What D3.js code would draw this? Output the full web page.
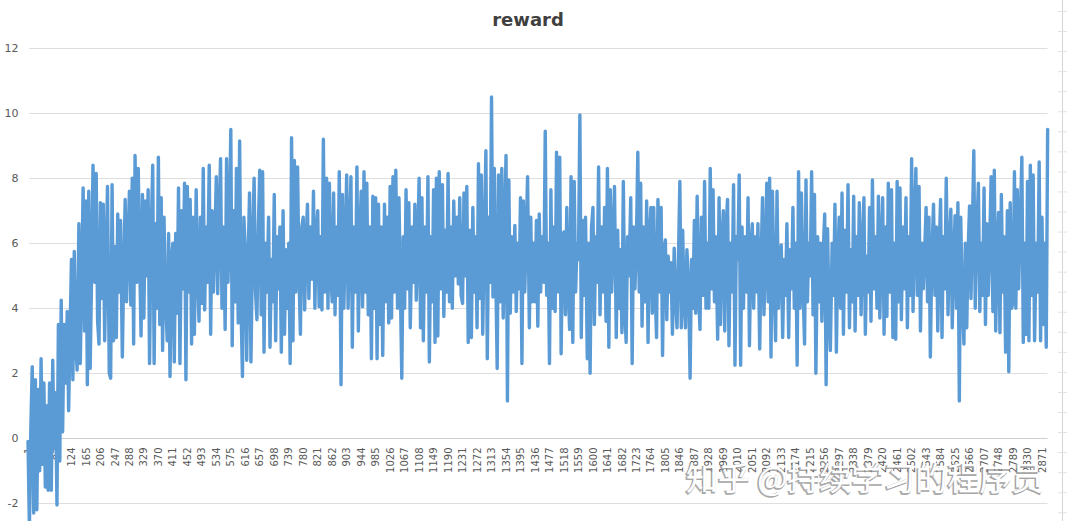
<!DOCTYPE html>
<html>
<head>
<meta charset="utf-8">
<title>reward</title>
<script src="https://d3js.org/d3.v7.min.js"></script>
<style>
  body { margin: 0; background: #fff; }
  svg text { font-family: "DejaVu Sans", sans-serif; }
</style>
</head>
<body>
<svg width="1067" height="521"></svg>
<script>
var yTicks = [-2, 0, 2, 4, 6, 8, 10, 12];
var xTickLabels = [1, 42, 83, 124, 165, 206, 247, 288, 329, 370, 411, 452, 493, 534, 575, 616, 657, 698,
    739, 780, 821, 862, 903, 944, 985, 1026, 1067, 1108, 1149, 1190, 1231, 1272, 1313, 1354, 1395, 1436,
    1477, 1518, 1559, 1600, 1641, 1682, 1723, 1764, 1805, 1846, 1887, 1928, 1969, 2010, 2051, 2092, 2133,
    2174, 2215, 2256, 2297, 2338, 2379, 2420, 2461, 2502, 2543, 2584, 2625, 2666, 2707, 2748, 2789, 2830, 2871];
var lastEpisode = 2888;
var sampleStep = 4.1;

// episodes 1 - 410
var reward1 = [
    -0.1, -2.7, 0.3, 2.2, -2.3, 1.8, -2.2, 1.5, -1.0, 2.45,
    -0.8, 1.7, -1.5, 1.0, -1.6, 1.7, -1.6, 2.4, -0.3, 1.4,
    -2.05, 3.5, -0.7, 4.25, 0.2, 3.5, 1.7, 3.9, 0.85, 3.2,
    5.5, 1.8, 5.75, 3.0, 2.1, 6.6, 2.3, 5.0, 7.7, 3.3,
    7.3, 1.65, 7.6, 2.15, 5.0, 8.4, 4.8, 8.15, 3.6, 2.9,
    7.25, 4.3, 7.2, 3.0, 5.5, 7.75, 2.0, 1.85, 7.8, 3.0,
    5.9, 3.1, 6.9, 4.5, 6.7, 2.5, 5.2, 7.35, 4.2, 6.0,
    7.6, 4.1, 8.0, 2.9, 8.7, 4.8, 8.3, 5.5, 3.15, 7.5,
    3.7, 7.3, 5.0, 7.65, 2.3, 6.0, 8.4, 2.3, 6.6, 4.0,
    8.65, 3.5, 7.4, 2.7, 6.8, 4.4, 3.0, 6.3, 1.9, 5.5
];
// episodes 411 - 820
var reward2 = [
    6.0, 2.35, 6.3, 3.85, 7.7, 2.3, 7.0, 4.6, 7.85, 1.8,
    7.75, 4.5, 7.35, 2.9, 6.8, 3.2, 7.65, 5.0, 3.6, 6.8,
    4.15, 8.3, 3.95, 6.5, 4.8, 8.4, 3.2, 7.0, 4.5, 6.2,
    8.05, 4.45, 6.8, 8.6, 4.0, 6.5, 3.35, 8.6, 4.8, 6.5,
    9.5, 2.85, 7.0, 4.2, 8.3, 3.55, 9.15, 4.0, 1.9, 6.8,
    5.8, 2.4, 5.5, 7.55, 2.35, 6.2, 8.0, 4.5, 3.65, 6.5,
    8.25, 3.8, 8.2, 2.65, 6.0, 4.5, 6.8, 2.8, 5.5, 4.2,
    7.5, 3.0, 6.2, 4.6, 6.5, 2.65, 7.0, 3.2, 5.8, 4.0,
    6.0, 2.3, 9.25, 3.0, 8.55, 4.5, 8.35, 5.0, 3.2, 6.5,
    6.8, 3.95, 6.0, 7.2, 4.3, 6.5, 4.9, 7.6, 4.0, 6.3
];
// episodes 821 - 1230
var reward3 = [
    7.0, 4.05, 6.2, 3.95, 9.2, 4.5, 8.0, 4.0, 7.85, 5.0,
    4.2, 7.55, 3.8, 6.5, 4.4, 8.2, 1.65, 7.5, 4.0, 6.0,
    8.1, 4.0, 6.2, 8.05, 2.8, 6.5, 4.5, 8.35, 3.3, 6.0,
    7.6, 4.05, 8.2, 4.5, 7.85, 3.8, 6.5, 2.45, 7.45, 4.0,
    7.4, 2.45, 7.2, 3.5, 6.5, 2.55, 7.2, 4.2, 6.8, 3.55,
    7.75, 3.7, 8.05, 4.5, 8.25, 4.0, 7.4, 4.6, 1.85, 6.2,
    4.0, 7.65, 4.6, 7.25, 3.4, 6.5, 4.8, 7.2, 4.25, 6.0,
    8.0, 3.4, 7.4, 3.0, 6.5, 4.5, 8.05, 2.35, 6.2, 4.2,
    7.65, 2.95, 8.0, 3.15, 8.2, 4.6, 7.8, 3.75, 6.4, 4.5,
    8.15, 4.2, 6.5, 4.0, 7.3, 5.0, 6.8, 4.75, 7.4, 4.4
];
// episodes 1231 - 1640
var reward4 = [
    4.15, 7.55, 5.0, 7.75, 2.95, 6.4, 3.1, 7.1, 4.5, 6.2,
    3.4, 8.45, 4.3, 8.1, 3.2, 6.5, 8.85, 2.45, 6.8, 4.8,
    10.5, 4.35, 8.3, 5.0, 2.15, 8.1, 4.2, 8.3, 3.7, 6.5,
    8.7, 1.15, 7.95, 3.85, 6.2, 4.5, 6.55, 3.9, 6.0, 4.6,
    7.4, 2.3, 7.3, 4.5, 6.2, 8.05, 3.4, 6.8, 4.2, 6.0,
    4.2, 6.7, 3.45, 6.9, 4.5, 6.2, 4.8, 9.45, 4.4, 6.0,
    2.3, 7.65, 4.0, 6.5, 3.9, 8.8, 4.5, 8.65, 2.6, 6.2,
    6.35, 3.8, 7.1, 4.6, 3.35, 8.05, 2.95, 7.9, 4.5, 6.0,
    5.5, 9.95, 3.1, 6.7, 4.4, 6.8, 2.45, 6.0, 2.0, 6.5,
    7.1, 3.5, 6.2, 4.8, 8.35, 3.8, 6.5, 4.5, 7.1, 3.6
];
// episodes 1641 - 2050
var reward5 = [
    8.3, 2.8, 7.65, 4.5, 6.0, 7.75, 3.1, 6.4, 4.0, 5.8,
    3.25, 7.9, 4.0, 2.95, 6.2, 5.0, 7.4, 2.3, 6.5, 4.6,
    6.0, 8.8, 4.5, 7.85, 3.45, 6.5, 4.2, 7.3, 2.95, 6.2,
    7.1, 3.85, 7.1, 4.6, 3.1, 7.35, 4.5, 7.1, 2.55, 5.8,
    6.1, 3.65, 5.6, 4.5, 5.4, 3.2, 5.85, 4.2, 3.4, 5.5,
    7.9, 3.4, 6.4, 4.2, 3.4, 5.8, 4.6, 1.85, 5.5, 4.0,
    6.7, 3.85, 7.45, 4.5, 3.35, 6.8, 4.4, 7.9, 4.0, 6.0,
    4.0, 8.3, 4.6, 7.65, 4.2, 6.2, 3.05, 7.4, 3.5, 6.0,
    7.0, 3.3, 6.5, 7.35, 2.85, 6.0, 4.5, 7.8, 2.25, 6.2,
    5.5, 8.1, 2.25, 6.5, 4.0, 6.2, 4.5, 7.4, 2.85, 5.8
];
// episodes 2051 - 2460
var reward6 = [
    6.6, 4.0, 6.2, 4.5, 6.6, 2.75, 5.5, 7.4, 3.8, 5.5,
    7.85, 4.2, 8.0, 2.5, 7.6, 4.5, 3.0, 7.6, 4.0, 5.5,
    5.95, 3.1, 5.5, 4.4, 6.6, 3.1, 5.8, 4.6, 7.1, 4.0,
    6.0, 2.25, 8.2, 4.0, 7.55, 4.5, 2.9, 7.95, 4.2, 6.0,
    5.0, 8.2, 3.8, 7.5, 2.0, 6.2, 4.2, 6.0, 3.6, 5.8,
    6.9, 1.65, 6.45, 4.0, 2.7, 6.0, 4.4, 7.2, 2.65, 5.5,
    6.8, 4.0, 7.55, 3.2, 6.4, 4.5, 7.8, 3.4, 5.8, 4.2,
    7.45, 3.3, 6.2, 4.4, 7.25, 3.8, 6.0, 7.4, 3.2, 5.6,
    4.5, 7.1, 3.6, 7.95, 4.6, 6.2, 4.0, 7.45, 3.7, 5.8,
    7.4, 3.2, 6.5, 3.75, 7.85, 4.5, 7.65, 3.1, 6.0, 3.05
];
// episodes 2461 - 2888
var reward7 = [
    7.9, 4.2, 7.7, 3.65, 6.5, 4.6, 7.4, 3.4, 6.2, 4.4,
    8.6, 3.9, 6.5, 8.3, 4.4, 7.75, 3.3, 6.0, 4.6, 5.8,
    7.1, 4.2, 6.8, 2.5, 5.5, 7.2, 4.4, 6.5, 3.3, 5.8,
    7.35, 3.1, 6.2, 4.6, 8.0, 3.8, 6.0, 7.05, 3.4, 5.5,
    6.85, 4.0, 7.25, 1.15, 6.8, 4.4, 2.9, 6.0, 3.4, 5.8,
    7.15, 4.3, 6.5, 8.85, 4.0, 6.2, 7.85, 3.9, 6.0, 4.4,
    7.7, 3.5, 6.6, 4.4, 6.0, 8.05, 3.9, 8.25, 3.3, 5.8,
    6.95, 3.25, 7.5, 4.5, 6.2, 2.65, 7.0, 2.05, 7.25, 4.0,
    4.2, 8.2, 4.0, 7.65, 4.6, 6.5, 8.65, 2.95, 6.0, 3.2,
    7.9, 3.0, 8.4, 4.4, 8.1, 3.0, 6.0, 4.5, 8.5, 3.0,
    6.8, 3.5, 6.0, 2.8, 9.5
];

var rewards = reward1.concat(reward2, reward3, reward4, reward5, reward6, reward7);
var points = rewards.map(function (v, i) {
    return { episode: Math.min(lastEpisode, Math.round(1 + i * sampleStep)), reward: v };
});

var svg = d3.select("svg");

var x = d3.scaleLinear().domain([1, lastEpisode]).range([28, 1048]);
var y = d3.scaleLinear().domain([-2, 12]).range([503.3, 48.3]);

// spreadsheet cell lines peeking in at the right
svg.append("line")
    .attr("x1", 1062.5).attr("x2", 1062.5).attr("y1", 0).attr("y2", 521)
    .attr("stroke", "#d4d4d4");
svg.append("g").selectAll("line")
    .data(d3.range(11.5, 521, 20.05))
    .enter().append("line")
    .attr("x1", 1058).attr("x2", 1067)
    .attr("y1", function (d) { return d; }).attr("y2", function (d) { return d; })
    .attr("stroke", "#e2e2e2");

// gridlines
svg.append("g").selectAll("line")
    .data(yTicks)
    .enter().append("line")
    .attr("x1", 29).attr("x2", 1047.5)
    .attr("y1", function (d) { return Math.round(y(d)) + 0.5; })
    .attr("y2", function (d) { return Math.round(y(d)) + 0.5; })
    .attr("stroke", function (d) { return d === 0 ? "#cfcfcf" : "#dedede"; })
    .attr("stroke-width", 1);

// y labels
svg.append("g").selectAll("text")
    .data(yTicks)
    .enter().append("text")
    .attr("x", 18.5)
    .attr("y", function (d) { return y(d); })
    .attr("dy", "0.36em")
    .attr("text-anchor", "end")
    .attr("font-size", 11)
    .attr("fill", "#595959")
    .text(function (d) { return d; });

// x labels, vertical, hanging under the 0 line
svg.append("g").selectAll("text")
    .data(xTickLabels)
    .enter().append("text")
    .attr("transform", function (d) { return "translate(" + x(d) + ",447.5) rotate(-90)"; })
    .attr("dy", "0.36em")
    .attr("text-anchor", "end")
    .attr("font-size", 10)
    .attr("fill", "#595959")
    .text(function (d) { return d; });

// the series
var line = d3.line()
    .x(function (d) { return x(d.episode); })
    .y(function (d) { return y(d.reward); });

svg.append("path")
    .datum(points)
    .attr("d", line)
    .attr("fill", "none")
    .attr("stroke", "#5b9bd5")
    .attr("stroke-width", 3.4)
    .attr("stroke-linejoin", "round")
    .attr("stroke-linecap", "round");

// title
svg.append("text")
    .attr("x", 528)
    .attr("y", 26)
    .attr("text-anchor", "middle")
    .attr("font-size", 18)
    .attr("font-weight", "bold")
    .attr("fill", "#404040")
    .text("reward");

// watermark
var mark = "知乎 @持续学习的程序员";
svg.append("text")
    .attr("x", 685).attr("y", 491)
    .style("font-family", "'Noto Sans CJK SC', sans-serif")
    .attr("font-size", 32)
    .attr("fill", "none")
    .attr("stroke", "#8a8a8a")
    .attr("stroke-width", 1.6)
    .attr("opacity", 0.75)
    .text(mark);
svg.append("text")
    .attr("x", 686).attr("y", 490)
    .style("font-family", "'Noto Sans CJK SC', sans-serif")
    .attr("font-size", 32)
    .attr("fill", "#ffffff")
    .text(mark);
</script>
</body>
</html>
